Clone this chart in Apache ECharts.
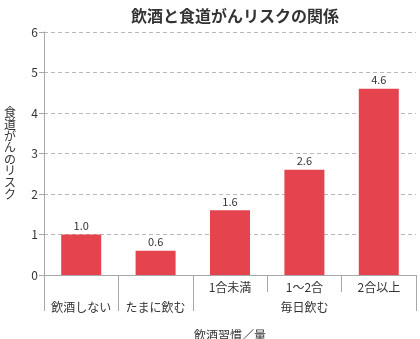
<!DOCTYPE html>
<html><head><meta charset="utf-8">
<script src="https://cdn.jsdelivr.net/npm/echarts@6/dist/echarts.min.js"></script>
<style>html,body{margin:0;padding:0;background:#fff}#c{width:420px;height:339px}</style>
</head><body><div id="c"></div>
<script>
const categories = ['飲酒しない', 'たまに飲む', '1合未満', '1～2合', '2合以上'];
const categoryLabels = ['\n飲酒しない', '\nたまに飲む', '1合未満', '1～2合\n毎日飲む', '2合以上'];
const riskValues = [1.0, 0.6, 1.6, 2.6, 4.6];
const yTicks = [0, 1, 2, 3, 4, 5, 6];
const titleText = '飲酒と食道がんリスクの関係';
const yName = '食道がんのリスク';
const xName = '飲酒習慣／量';

const font = '"Noto Sans CJK JP", "Noto Sans", sans-serif';
const axisGray = '#a8a8a8';
const chart = echarts.init(document.getElementById('c'), null, {renderer: 'canvas'});
chart.setOption({
  animation: false,
  textStyle: {fontFamily: font},
  title: {
    text: titleText, left: 230, textAlign: 'center', top: 3,
    textStyle: {fontFamily: font, fontSize: 16, fontWeight: 'bold', color: '#333'}
  },
  grid: {left: 44, right: 4, top: 32, bottom: 64, containLabel: false, outerBoundsMode: 'none'},
  xAxis: [{
    type: 'category', data: categories, position: 'bottom', offset: 0,
    axisLine: {show: true, lineStyle: {color: axisGray, width: 1}},
    axisTick: {show: true, length: 36, interval: function (i) { return i <= 2; }, lineStyle: {color: axisGray}},
    axisLabel: {
      interval: 0, margin: 2, fontSize: 12, lineHeight: 20, color: '#333', fontFamily: font,
      formatter: function (v, i) { return categoryLabels[i]; }
    },
    name: xName, nameLocation: 'middle', nameGap: 54,
    nameTextStyle: {fontSize: 12, color: '#333', fontFamily: font}
  }, {
    type: 'category', data: categories, position: 'bottom', offset: 0,
    axisLine: {show: false},
    axisTick: {show: true, length: 17, interval: 0, lineStyle: {color: axisGray}},
    axisLabel: {show: false}
  }],
  yAxis: {
    type: 'value', min: yTicks[0], max: yTicks[yTicks.length - 1], interval: 1,
    axisLine: {show: true, lineStyle: {color: axisGray}},
    axisTick: {show: true, length: 5, lineStyle: {color: axisGray}},
    axisLabel: {fontSize: 12, color: '#333', margin: 6, fontFamily: font},
    splitLine: {show: true, lineStyle: {color: '#b8b8b8', type: [4, 3]}},
    name: yName.split('').join('\n'), nameLocation: 'middle', nameRotate: 0, nameGap: 28,
    nameTextStyle: {fontSize: 12, lineHeight: 11.6, color: '#333', fontFamily: font}
  },
  series: [{
    type: 'bar', data: riskValues, barWidth: 40, xAxisIndex: 0,
    itemStyle: {color: '#e5444e'},
    label: {
      show: true, position: 'top', distance: 3, fontSize: 11, color: '#333', fontFamily: font,
      formatter: function (p) { return p.value.toFixed(1); }
    }
  }]
});
</script></body></html>
